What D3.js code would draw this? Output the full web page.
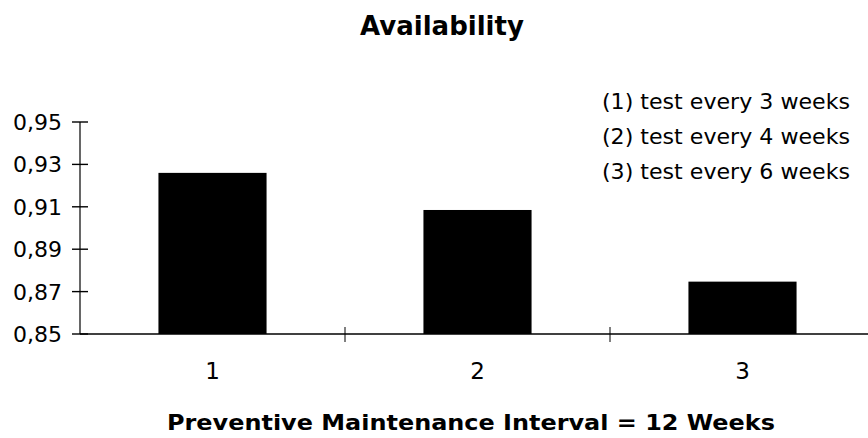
<!DOCTYPE html>
<html>
<head>
<meta charset="utf-8">
<script src="https://cdn.jsdelivr.net/npm/d3@7/dist/d3.min.js"></script>
<style>
  html, body { margin: 0; padding: 0; background: #fff; }
  svg { display: block; }
  text { fill: #000; }
</style>
</head>
<body>
<svg id="chart" width="868" height="438"></svg>
<script>
// ---- data ----
const categories = ["1", "2", "3"];
const availability = [0.926, 0.9085, 0.8747];
const yTicks = [0.85, 0.87, 0.89, 0.91, 0.93, 0.95];
const legendLines = [
  "(1) test every 3 weeks",
  "(2) test every 4 weeks",
  "(3) test every 6 weeks"
];
const chartTitle = "Availability";
const xTitle = "Preventive Maintenance Interval = 12 Weeks";

// ---- layout ----
const W = 868, H = 438;
const plot = { left: 80, right: 875, top: 122, bottom: 334 };
const fontFamily = "'DejaVu Sans', 'Liberation Sans', sans-serif";

const svg = d3.select("#chart");

const x = d3.scaleBand()
  .domain(categories)
  .range([plot.left, plot.right])
  .paddingInner(0.592)
  .paddingOuter(0.296);

const y = d3.scaleLinear()
  .domain([0.85, 0.95])
  .range([plot.bottom, plot.top]);

const fmt = v => d3.format(".2f")(v).replace(".", ",");

// bars
svg.append("g")
  .selectAll("rect")
  .data(categories.map((c, i) => ({ c, v: availability[i] })))
  .join("rect")
  .attr("x", d => x(d.c))
  .attr("y", d => y(d.v))
  .attr("width", x.bandwidth())
  .attr("height", d => y(0.85) - y(d.v))
  .attr("fill", "#000");

// y axis (cross ticks)
const yAxis = svg.append("g").attr("transform", `translate(${plot.left},0)`);
yAxis.append("line")
  .attr("x1", 0).attr("x2", 0)
  .attr("y1", y(0.95)).attr("y2", y(0.85))
  .attr("stroke", "#000").attr("stroke-width", 1.2);
yAxis.selectAll("line.tick")
  .data(yTicks)
  .join("line")
  .attr("class", "tick")
  .attr("x1", -8).attr("x2", 8)
  .attr("y1", d => y(d)).attr("y2", d => y(d))
  .attr("stroke", "#000").attr("stroke-width", 1.4);
yAxis.selectAll("text")
  .data(yTicks)
  .join("text")
  .attr("x", -18)
  .attr("y", d => y(d))
  .attr("dy", "0.36em")
  .attr("text-anchor", "end")
  .attr("font-family", fontFamily)
  .attr("font-size", 22)
  .text(fmt);

// x axis
const xAxis = svg.append("g");
xAxis.append("line")
  .attr("x1", plot.left).attr("x2", W)
  .attr("y1", y(0.85)).attr("y2", y(0.85))
  .attr("stroke", "#000").attr("stroke-width", 1.6);
const boundaries = categories.slice(1).map(c => x(c) - x.step() * x.paddingInner() / 2);
xAxis.selectAll("line.tick")
  .data(boundaries)
  .join("line")
  .attr("class", "tick")
  .attr("x1", d => d).attr("x2", d => d)
  .attr("y1", y(0.85) - 7).attr("y2", y(0.85) + 8)
  .attr("stroke", "#000").attr("stroke-width", 1);
xAxis.selectAll("text")
  .data(categories)
  .join("text")
  .attr("x", d => x(d) + x.bandwidth() / 2)
  .attr("y", 379)
  .attr("text-anchor", "middle")
  .attr("font-family", fontFamily)
  .attr("font-size", 23)
  .text(d => d);

// title
svg.append("text")
  .attr("x", 442)
  .attr("y", 35)
  .attr("text-anchor", "middle")
  .attr("font-family", fontFamily)
  .attr("font-weight", "bold")
  .attr("font-size", 26)
  .text(chartTitle);

// x title
svg.append("text")
  .attr("x", 167)
  .attr("y", 430)
  .attr("font-family", fontFamily)
  .attr("font-weight", "bold")
  .attr("font-size", 22)
  .attr("textLength", 608)
  .attr("lengthAdjust", "spacingAndGlyphs")
  .text(xTitle);

// legend text
svg.append("g")
  .selectAll("text")
  .data(legendLines)
  .join("text")
  .attr("x", 602)
  .attr("y", (d, i) => 109 + i * 35)
  .attr("font-family", fontFamily)
  .attr("font-size", 21)
  .attr("textLength", 248)
  .attr("lengthAdjust", "spacingAndGlyphs")
  .text(d => d);
</script>
</body>
</html>
